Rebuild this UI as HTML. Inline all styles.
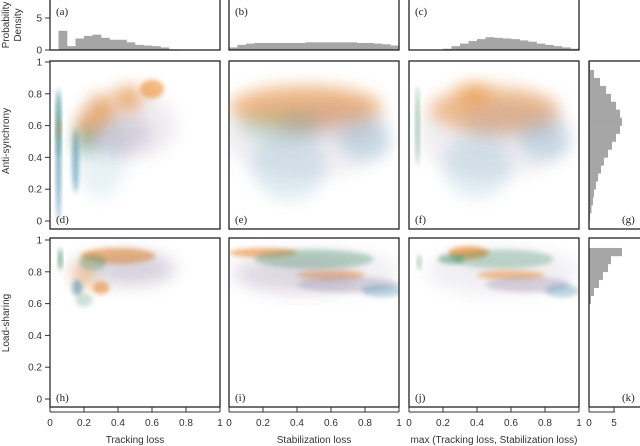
<!DOCTYPE html>
<html><head><meta charset="utf-8"><style>
html,body{margin:0;padding:0;background:#fff;width:640px;height:446px;overflow:hidden}
svg text{font-family:"Liberation Sans",sans-serif;font-size:10px;fill:#333}
svg text.pl{font-family:"Liberation Serif",serif;font-size:11px;fill:#222}
</style></head><body>
<svg id="fig" width="640" height="446" viewBox="0 0 640 446" xmlns="http://www.w3.org/2000/svg">
<defs>
<filter id="b1" x="-50%" y="-50%" width="200%" height="200%"><feGaussianBlur stdDeviation="2.5"/></filter>
<filter id="b2" x="-50%" y="-50%" width="200%" height="200%"><feGaussianBlur stdDeviation="8"/></filter>
<clipPath id="c0"><rect x="50" y="61" width="170" height="168"/></clipPath>
<clipPath id="c1"><rect x="229" y="61" width="170" height="168"/></clipPath>
<clipPath id="c2"><rect x="409" y="61" width="170" height="168"/></clipPath>
<clipPath id="c3"><rect x="50" y="238" width="170" height="169"/></clipPath>
<clipPath id="c4"><rect x="229" y="238" width="170" height="169"/></clipPath>
<clipPath id="c5"><rect x="409" y="238" width="170" height="169"/></clipPath>
</defs>
</svg>
<script>
// Histogram data (bin width 0.05)
const histTracking = [0,3.0,0.6,1.8,2.2,2.4,1.9,1.6,1.6,1.2,0.8,0.7,0.6,0.4,0.1,0.05,0,0,0,0];
const histStab = [0.4,0.8,1.0,1.1,1.1,1.1,1.1,1.1,1.1,1.2,1.2,1.2,1.2,1.2,1.2,1.1,1.1,1.0,0.9,0.7];
const histMax = [0,0,0,0,0.2,0.6,1.0,1.4,1.7,2.0,1.9,1.8,1.7,1.5,1.3,1.0,0.8,0.6,0.4,0.2];
const histAnti = [0.2,0.5,0.8,1.0,1.4,1.8,2.4,3.0,3.8,4.6,5.4,6.2,6.6,6.2,5.4,4.4,3.4,2.2,1.0,0.2];
const histLoad = [0,0,0,0,0,0,0,0,0,0,0,0,0.4,1.0,2.0,2.8,3.8,4.4,6.6,0];
const xTicks = [0,0.2,0.4,0.6,0.8,1];
const xTickLabels = ["0","0.2","0.4","0.6","0.8","1"];
const yTicks = [0,0.2,0.4,0.6,0.8,1];
const yTickLabels = ["0","0.2","0.4","0.6","0.8","1"];
const densTicks = [0,5];
// Scatter density clusters: [x, y, spreadX, spreadY, colorIndex, opacity]
const clustersD = [[0.45,0.6,0.3,0.22,3,0.14],[0.3,0.4,0.15,0.25,1,0.1],[0.05,0.42,0.012,0.42,1,0.75],[0.05,0.6,0.012,0.2,2,0.55],[0.05,0.58,0.01,0.06,0,0.5],[0.15,0.38,0.018,0.2,1,0.55],[0.4,0.55,0.2,0.12,3,0.25],[0.22,0.6,0.06,0.08,0,0.6],[0.3,0.7,0.08,0.09,0,0.6],[0.46,0.77,0.08,0.08,0,0.6],[0.6,0.83,0.07,0.06,0,0.55],[0.2,0.5,0.06,0.08,2,0.4]];
const clustersE = [[0.45,0.55,0.5,0.28,3,0.12],[0.45,0.72,0.45,0.13,0,0.5],[0.3,0.6,0.25,0.1,2,0.2],[0.35,0.35,0.22,0.22,1,0.15],[0.8,0.5,0.15,0.12,1,0.2],[0.6,0.62,0.3,0.12,3,0.2]];
const clustersF = [[0.5,0.55,0.45,0.28,3,0.12],[0.5,0.7,0.38,0.14,0,0.45],[0.38,0.8,0.1,0.07,0,0.45],[0.05,0.6,0.01,0.25,2,0.55],[0.4,0.35,0.2,0.2,1,0.15],[0.8,0.5,0.15,0.12,1,0.2],[0.6,0.62,0.3,0.12,3,0.2]];
const clustersH = [[0.4,0.82,0.3,0.12,3,0.12],[0.06,0.88,0.01,0.07,2,0.85],[0.4,0.9,0.22,0.05,0,0.55],[0.2,0.78,0.06,0.08,0,0.5],[0.3,0.7,0.05,0.04,0,0.55],[0.16,0.7,0.03,0.05,1,0.5],[0.5,0.82,0.25,0.1,3,0.25],[0.2,0.62,0.05,0.04,2,0.25],[0.25,0.86,0.08,0.05,2,0.35]];
const clustersI = [[0.5,0.8,0.5,0.15,3,0.12],[0.2,0.92,0.2,0.03,0,0.55],[0.5,0.88,0.35,0.06,2,0.35],[0.6,0.78,0.2,0.03,0,0.45],[0.7,0.72,0.3,0.05,3,0.3],[0.9,0.68,0.12,0.04,1,0.3],[0.4,0.78,0.35,0.1,3,0.2]];
const clustersJ = [[0.55,0.8,0.45,0.15,3,0.12],[0.35,0.92,0.12,0.04,0,0.65],[0.25,0.88,0.08,0.03,2,0.5],[0.55,0.88,0.3,0.06,2,0.3],[0.6,0.78,0.2,0.03,0,0.45],[0.7,0.72,0.25,0.05,3,0.3],[0.9,0.68,0.1,0.04,1,0.3],[0.06,0.86,0.01,0.05,2,0.5]];
const palette = ["#e8801c","#2c7fa6","#3e8c62","#8d7e9c"];

const NS="http://www.w3.org/2000/svg";
const svg=document.getElementById('fig');
function mk(tag,attrs,parent){const e=document.createElementNS(NS,tag);for(const k in attrs)e.setAttribute(k,attrs[k]);(parent||svg).appendChild(e);return e;}
const cols=[50,229,409], W=170;
const rows=[{t:61,h:168,y0:221,y1:62},{t:238,h:169,y0:399,y1:240}];
function sx(c,v){return cols[c]+v*W;}
function sy(r,v){return rows[r].y0-(rows[r].y0-rows[r].y1)*v;}

const topH=[histTracking,histStab,histMax];
const topNames=['hist-tracking','hist-stabilization','hist-max'];
const topLabels=['(a)','(b)','(c)'];
function dY(v){return 50-v*(32/5);}
topH.forEach((h,c)=>{
  const g=mk('g',{});
  
  
  h.forEach((v,i)=>{ if(v<=0)return;
    const r=mk('rect',{x:sx(c,i*0.05),y:dY(v),width:W*0.05+0.3,height:50-dY(v),fill:'#a6a6a6'},g);
    
    
  });
  const f=mk('rect',{x:cols[c],y:-1,width:W,height:51,fill:'none',stroke:'#222','stroke-width':1.3});
  
  
  const t=mk('text',{x:cols[c]+6,y:15,class:'pl'});t.textContent=topLabels[c];
  
  
});
densTicks.forEach(v=>{
  mk('line',{x1:45,x2:50,y1:dY(v),y2:dY(v),stroke:'#333'});
  const t=mk('text',{x:42,y:dY(v)+3.5,'text-anchor':'end'});t.textContent=String(v);
  
  
});
mk('line',{x1:50,x2:50,y1:dY(0),y2:dY(5),stroke:'#333'});

const panelClusters=[[clustersD,clustersE,clustersF],[clustersH,clustersI,clustersJ]];
const pLabels=[['(d)','(e)','(f)'],['(h)','(i)','(j)']];
rows.forEach((R,r)=>{
  for(let c=0;c<3;c++){
    const g=mk('g',{'clip-path':`url(#c${r*3+c})`});
    
    
    panelClusters[r][c].forEach(k=>{
      const rx=k[2]*W, ry=k[3]*(R.y0-R.y1);
      const e=mk('ellipse',{cx:sx(c,k[0]),cy:sy(r,k[1]),rx:rx,ry:ry,fill:palette[k[4]],opacity:k[5],filter:(Math.min(rx,ry)>10?'url(#b2)':'url(#b1)')},g);
      
      
    });
    const f=mk('rect',{x:cols[c],y:R.t,width:W,height:R.h,fill:'none',stroke:'#222','stroke-width':1.3});
    
    
    const t=mk('text',{x:cols[c]+6,y:R.t+R.h-6,class:'pl'});t.textContent=pLabels[r][c];
    
    
  }
  mk('line',{x1:50,x2:50,y1:sy(r,0),y2:sy(r,1),stroke:'#333'});
  yTicks.forEach((v,i)=>{
    mk('line',{x1:45,x2:50,y1:sy(r,v),y2:sy(r,v),stroke:'#333'});
    const t=mk('text',{x:42,y:sy(r,v)+3.5,'text-anchor':'end'});t.textContent=yTickLabels[i];
    
    
  });
});
const sideH=[histAnti,histLoad], sideL=['(g)','(k)'], sideN=['hist-anti-synchrony','hist-load-sharing'];
function hx(v){return 589+v*5;}
rows.forEach((R,r)=>{
  const g=mk('g',{});
  
  
  sideH[r].forEach((v,i)=>{ if(v<=0)return;
    const yA=sy(r,(i+1)*0.05), yB=sy(r,i*0.05);
    const b=mk('rect',{x:589,y:yA,width:hx(v)-589,height:yB-yA+0.3,fill:'#a6a6a6'},g);
    
    
  });
  const f=mk('rect',{x:589,y:R.t,width:53,height:R.h,fill:'none',stroke:'#222','stroke-width':1.3});
  
  
  const t=mk('text',{x:622,y:R.t+R.h-6,class:'pl'});t.textContent=sideL[r];
  
  
});
for(let c=0;c<3;c++){
  mk('line',{x1:sx(c,0),x2:sx(c,1),y1:412,y2:412,stroke:'#333'});
  xTicks.forEach((v,i)=>{
    mk('line',{x1:sx(c,v),x2:sx(c,v),y1:407,y2:412,stroke:'#333'});
    const t=mk('text',{x:sx(c,v),y:426,'text-anchor':'middle'});t.textContent=xTickLabels[i];
    
    
  });
}
mk('line',{x1:589,x2:615,y1:412,y2:412,stroke:'#333'});
densTicks.forEach(v=>{
  mk('line',{x1:hx(v),x2:hx(v),y1:407,y2:412,stroke:'#333'});
  const t=mk('text',{x:hx(v),y:426,'text-anchor':'middle'});t.textContent=String(v);
  
  
});
const xt=[['Tracking loss',135,'x-axis-title-tracking'],['Stabilization loss',314,'x-axis-title-stabilization'],['max (Tracking loss, Stabilization loss)',494,'x-axis-title-max']];
xt.forEach(a=>{const t=mk('text',{x:a[1],y:443,'text-anchor':'middle'});t.textContent=a[0];
  
  });
const yt=[['Anti-synchrony',141,'y-axis-title-anti-synchrony'],['Load-sharing',323,'y-axis-title-load-sharing']];
yt.forEach(a=>{const t=mk('text',{x:0,y:0,'text-anchor':'middle',transform:`translate(9,${a[1]}) rotate(-90)`});t.textContent=a[0];
  
  });
const p1=mk('text',{x:0,y:0,'text-anchor':'middle',transform:'translate(9,25) rotate(-90)'});p1.textContent='Probability';


const p2=mk('text',{x:0,y:0,'text-anchor':'middle',transform:'translate(21,25) rotate(-90)'});p2.textContent='Density';


</script>
</body></html>
